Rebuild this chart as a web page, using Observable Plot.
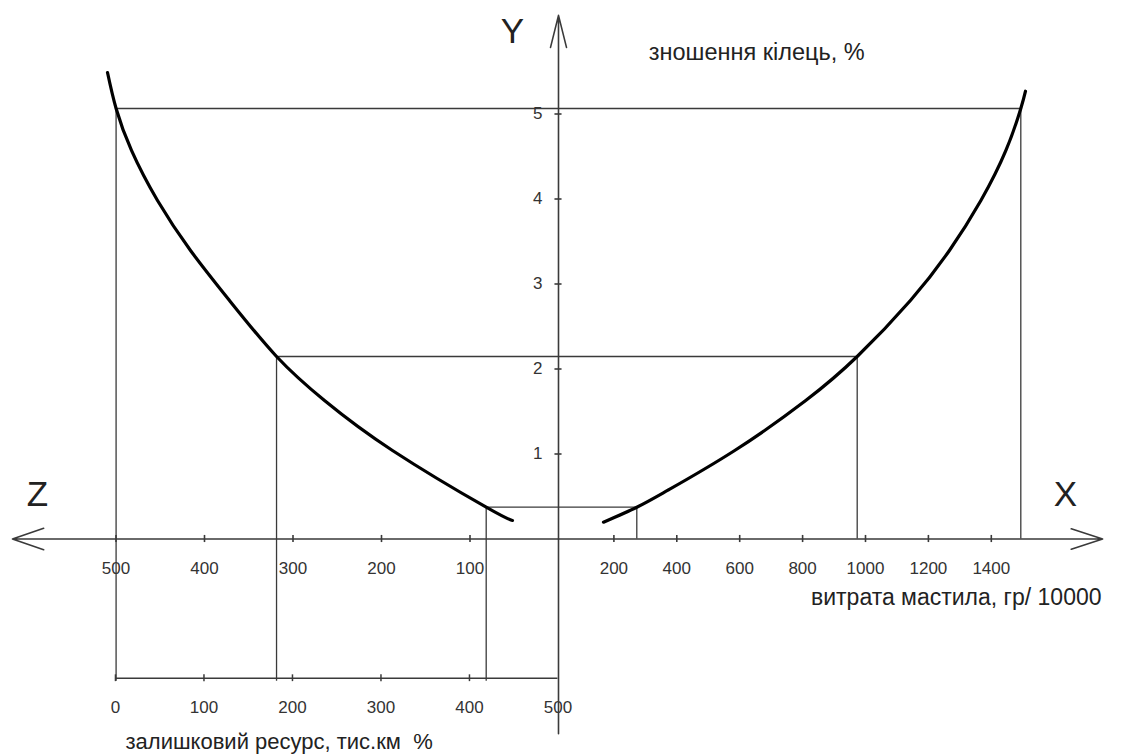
<!DOCTYPE html>
<html><head><meta charset="utf-8">
<script src="https://cdn.jsdelivr.net/npm/d3@7"></script>
<script src="https://cdn.jsdelivr.net/npm/@observablehq/plot@0.6"></script>
<style>html,body{margin:0;padding:0;background:#fff;} #chart svg{display:block}</style>
</head><body><div id="chart"></div>
<script>
// ---- data ----
const yTicks = [1, 2, 3, 4, 5];                        // знос кілець, %
const zTicks = [500, 400, 300, 200, 100];              // Z axis (left)
const xTicks = [200, 400, 600, 800, 1000, 1200, 1400]; // витрата мастила
const wTicks = [0, 100, 200, 300, 400, 500];           // залишковий ресурс
// left curve: Z value vs wear
const leftZ = [509.6, 499.9, 482.5, 453.1, 415.8, 371.8, 318.6, 264.4, 187.6, 81.7, 52.0];
const leftY = [5.488, 5.065, 4.571, 3.982, 3.394, 2.806, 2.147, 1.629, 1.041, 0.374, 0.218];
// right curve: oil consumption vs wear
const rightX = [166.9, 272.8, 370.4, 584.1, 809.9, 973.6, 1142.8, 1266.8, 1366.9, 1446.4, 1493.8, 1508.7];
const rightY = [0.198, 0.374, 0.571, 1.041, 1.629, 2.147, 2.806, 3.394, 3.982, 4.571, 5.065, 5.268];
// construction levels
const levelY = [5.065, 2.147, 0.374];
const levelZ = [499.9, 318.6, 81.7];
const levelX = [1493.8, 973.6, 272.8];

// ---- mapping of each quadrant's units onto the shared horizontal scale ----
const uZ = z => -z;
const uX = x => 0.35537 * x - 8.475;
const uW = w => w - 500.6;
const yBottomAxis = -1.638;

const left = leftZ.map((z, i) => ({u: uZ(z), v: leftY[i]}));
const right = rightX.map((x, i) => ({u: uX(x), v: rightY[i]}));
const levels = levelY.map((v, i) => ({v, z: levelZ[i], x: levelX[i]}));

const font = "'Liberation Sans', Arial, sans-serif";
const lineCol = "#3a3a3a";
const tickCol = "#333";
const sw = 1.6;
const head = 33 * 1.5 / sw;

const chart = Plot.plot({
  width: 1123, height: 756,
  margin: 0,
  style: {background: "#fff", fontFamily: font},
  x: {domain: [-500, 0], range: [115.5, 558], axis: null},
  y: {domain: [0, 5], range: [538.5, 113.5], axis: null},
  marks: [
    // construction lines
    Plot.ruleY(levels, {y: "v", x1: d => uZ(d.z), x2: d => uX(d.x), stroke: lineCol, strokeWidth: 1.3}),
    Plot.ruleX(levels, {x: d => uZ(d.z), y1: "v", y2: yBottomAxis - 0.035, stroke: lineCol, strokeWidth: 1.3}),
    Plot.ruleX(levels, {x: d => uX(d.x), y1: "v", y2: 0, stroke: lineCol, strokeWidth: 1.3}),
    // bottom (remaining resource) axis
    Plot.ruleY([yBottomAxis], {x1: uW(0), x2: uW(500), stroke: lineCol, strokeWidth: 1.5}),
    Plot.ruleX(wTicks.slice(0, 5), {x: uW, y1: yBottomAxis - 0.04, y2: yBottomAxis + 0.04, stroke: lineCol, strokeWidth: 1.5}),
    Plot.text(wTicks, {x: uW, y: yBottomAxis, dy: 29, text: d => String(d), fontSize: 17, fill: tickCol}),
    // main axes with open arrow heads
    Plot.arrow([0], {x1: 0, y1: -2.29, x2: 0, y2: 6.16, headAngle: 28, headLength: head, stroke: lineCol, strokeWidth: sw}),
    Plot.arrow([0], {x1: 0, y1: 0, x2: -617, y2: 0, headAngle: 38, headLength: head, stroke: lineCol, strokeWidth: sw}),
    Plot.arrow([0], {x1: 0, y1: 0, x2: uX(1754), y2: 0, headAngle: 36, headLength: head, stroke: lineCol, strokeWidth: sw}),
    // ticks on main axes
    Plot.ruleX(zTicks, {x: uZ, y1: -0.042, y2: 0.042, stroke: lineCol, strokeWidth: 1.6}),
    Plot.ruleX(xTicks, {x: uX, y1: -0.042, y2: 0.042, stroke: lineCol, strokeWidth: 1.6}),
    Plot.ruleY(yTicks, {y: d => d, x1: -4, x2: 4, stroke: lineCol, strokeWidth: 1.6}),
    // tick labels
    Plot.text(zTicks, {x: uZ, y: 0, dy: 30, text: d => String(d), fontSize: 17, fill: tickCol}),
    Plot.text(xTicks, {x: uX, y: 0, dy: 30, text: d => String(d), fontSize: 17, fill: tickCol}),
    Plot.text(yTicks, {x: 0, y: d => d, dx: -16, textAnchor: "end", text: d => String(d), fontSize: 17, fill: tickCol}),
    // curves
    Plot.line(left, {x: "u", y: "v", curve: "natural", stroke: "#000", strokeWidth: 3.2}),
    Plot.line(right, {x: "u", y: "v", curve: "natural", stroke: "#000", strokeWidth: 3.2}),
    // axis letters
    Plot.text(["Y"], {x: -52, y: 5.841, lineAnchor: "bottom", fontSize: 35, fill: "#222"}),
    Plot.text(["Z"], {x: -588.7, y: 0.394, lineAnchor: "bottom", fontSize: 35, fill: "#222"}),
    Plot.text(["X"], {x: 572.9, y: 0.394, lineAnchor: "bottom", fontSize: 35, fill: "#222"}),
    // axis titles
    Plot.text(["зношення кілець, %"], {x: 102, y: 5.63, lineAnchor: "bottom", textAnchor: "start", fontSize: 23.5, fill: "#222"}),
    Plot.text(["витрата мастила, гр/ 10000"], {x: 613.6, y: -0.782, lineAnchor: "bottom", textAnchor: "end", fontSize: 23, fill: "#222"}),
    Plot.text(["залишковий ресурс, тис.км\u00a0\u00a0%"], {x: -489.3, y: -2.47, lineAnchor: "bottom", textAnchor: "start", fontSize: 22, fill: "#222"})
  ]
});
document.getElementById("chart").append(chart);
</script>
</body></html>
